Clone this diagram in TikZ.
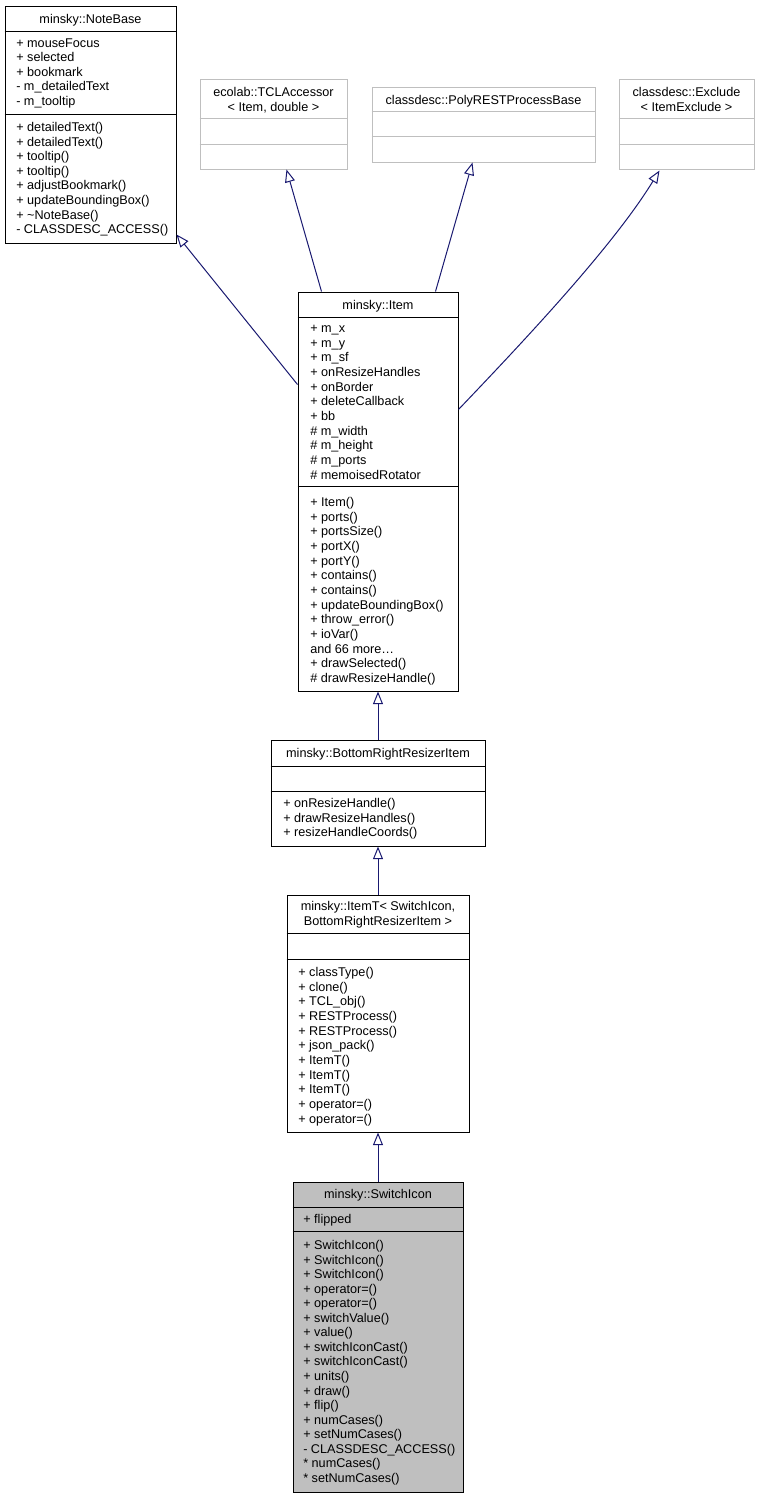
\documentclass[tikz,border=0pt]{standalone}
\usepackage{fontspec}
\setmainfont{Liberation Sans}
\usetikzlibrary{arrows.meta,calc,fit}
\definecolor{extgray}{HTML}{BFBFBF}
\definecolor{edgeblue}{HTML}{191970}
\definecolor{fillgray}{HTML}{BFBFBF}
\tikzset{
 cls/.style={draw=black, line width=0.75pt, inner sep=0pt, fill=white},
 extcls/.style={draw=extgray, line width=0.75pt, inner sep=0pt, fill=white},
 mem/.style={anchor=base west, inner sep=0pt, font=\fontsize{9.5}{11}\selectfont},
 ttl/.style={anchor=base, inner sep=0pt, font=\fontsize{9.5}{11}\selectfont},
 inh/.style={draw=edgeblue, line width=0.75pt, -{Triangle[open, length=9.5pt, width=7.5pt]}},
 sepblack/.style={draw=black, line width=0.75pt},
 sepgray/.style={draw=extgray, line width=0.75pt},
}
\newcommand\memlist[5]{%
 \foreach \t [count=\i from 0] in {#5} {\node[mem] (#1-\i) at (#2,{#3+4.5+\i*#4}) {\t};}}
\newcommand\sepline[3]{\draw[#3] ($(#1.north west)+(0,#2)$) -- ($(#1.north east)+(0,#2)$);}
\begin{document}
\begin{tikzpicture}[x=0.75pt, y=-0.75pt]
\useasboundingbox (0,0) rectangle (759,1499);

% ---------- minsky::NoteBase
\node[cls, fit={(5,6) (176,243)}] (notebase) {};
\node[ttl] (notebase-t) at (90.5,23.5) {minsky::NoteBase};
\sepline{notebase}{26}{sepblack}
\sepline{notebase}{109}{sepblack}
\memlist{nba}{16}{42.5}{14.6}{+ mouseFocus, + selected, + bookmark, - m\_detailedText, - m\_tooltip}
\memlist{nbm}{16}{127}{14.6}{+ detailedText(), + detailedText(), + tooltip(), + tooltip(), + adjustBookmark(), + updateBoundingBox(), + \textasciitilde NoteBase(), - CLASSDESC\_ACCESS()}

% ---------- ecolab::TCLAccessor
\node[extcls, fit={(200,79) (347,169)}] (tcl) {};
\node[ttl] (tcl-t1) at (273.5,96.5) {ecolab::TCLAccessor};
\node[ttl] (tcl-t2) at (273.5,111.5) {< Item, double >};
\sepline{tcl}{40}{sepgray}
\sepline{tcl}{66}{sepgray}

% ---------- classdesc::PolyRESTProcessBase
\node[extcls, fit={(372,87) (595,162)}] (poly) {};
\node[ttl] (poly-t) at (483.5,104) {classdesc::PolyRESTProcessBase};
\sepline{poly}{25}{sepgray}
\sepline{poly}{50}{sepgray}

% ---------- classdesc::Exclude
\node[extcls, fit={(619,79) (754,169)}] (excl) {};
\node[ttl] (excl-t1) at (686.5,96.5) {classdesc::Exclude};
\node[ttl] (excl-t2) at (686.5,111.5) {< ItemExclude >};
\sepline{excl}{40}{sepgray}
\sepline{excl}{66}{sepgray}

% ---------- minsky::Item
\node[cls, fit={(298,292) (458,691)}] (item) {};
\node[ttl] (item-t) at (378,309.5) {minsky::Item};
\sepline{item}{26}{sepblack}
\sepline{item}{195}{sepblack}
\memlist{ita}{310}{328}{14.65}{+ m\_x, + m\_y, + m\_sf, + onResizeHandles, + onBorder, + deleteCallback, + bb, \# m\_width, \# m\_height, \# m\_ports, \# memoisedRotator}
\memlist{itm}{310}{502}{14.65}{+ Item(), + ports(), + portsSize(), + portX(), + portY(), + contains(), + contains(), + updateBoundingBox(), + throw\_error(), + ioVar(), {and 66 more\ldots}, + drawSelected(), \# drawResizeHandle()}

% ---------- minsky::BottomRightResizerItem
\node[cls, fit={(271,740) (485,846)}] (brr) {};
\node[ttl] (brr-t) at (378,757.5) {minsky::BottomRightResizerItem};
\sepline{brr}{27}{sepblack}
\sepline{brr}{52}{sepblack}
\memlist{brm}{283}{803}{14.65}{+ onResizeHandle(), + drawResizeHandles(), + resizeHandleCoords()}

% ---------- minsky::ItemT
\node[cls, fit={(287,895) (469,1132)}] (itemt) {};
\node[ttl] (itemt-t1) at (378,910.5) {minsky::ItemT< SwitchIcon,};
\node[ttl] (itemt-t2) at (378,925.5) {BottomRightResizerItem >};
\sepline{itemt}{39}{sepblack}
\sepline{itemt}{65}{sepblack}
\memlist{itt}{298}{972}{14.65}{+ classType(), + clone(), + TCL\_obj(), + RESTProcess(), + RESTProcess(), + json\_pack(), + ItemT(), + ItemT(), + ItemT(), + operator=(), + operator=()}

% ---------- minsky::SwitchIcon
\node[cls, fill=fillgray, fit={(293,1182) (463,1492)}] (sw) {};
\node[ttl] (sw-t) at (378,1198.5) {minsky::SwitchIcon};
\sepline{sw}{26}{sepblack}
\sepline{sw}{50}{sepblack}
\memlist{swa}{303}{1219}{14.6}{+ flipped}
\memlist{swm}{303}{1245}{14.56}{+ SwitchIcon(), + SwitchIcon(), + SwitchIcon(), + operator=(), + operator=(), + switchValue(), + value(), + switchIconCast(), + switchIconCast(), + units(), + draw(), + flip(), + numCases(), + setNumCases(), - CLASSDESC\_ACCESS(), * numCases(), * setNumCases()}

% ---------- inheritance connectors
\draw[inh] ($(item.north west)+(0,93)$) -- ($(notebase.south east)+(0,-9)$);
\draw[inh] ($(item.north west)+(24,0)$) -- ($(tcl.south west)+(87,0)$);
\draw[inh] ($(item.north west)+(138,0)$) -- ($(poly.south west)+(101,0)$);
\draw[inh] ($(item.north east)+(0,118)$) .. controls (520,345) and (612,248) .. ($(excl.south west)+(41,1)$);
\draw[inh] (brr.north) -- (item.south);
\draw[inh] (itemt.north) -- (brr.south);
\draw[inh] (sw.north) -- (itemt.south);
\end{tikzpicture}
\end{document}
